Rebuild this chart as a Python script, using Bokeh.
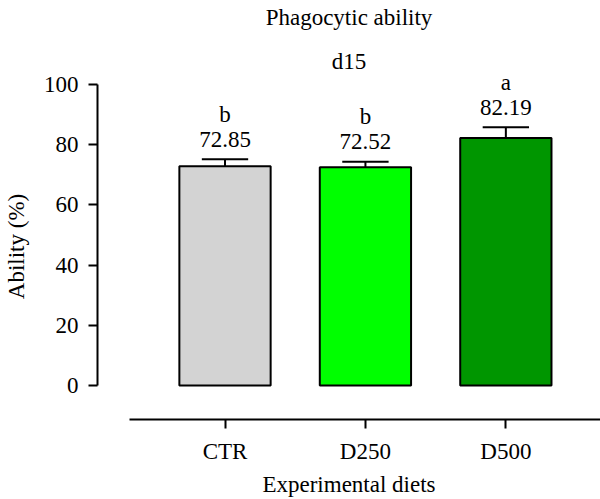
from bokeh.plotting import figure
from bokeh.models import ColumnDataSource, Range1d, FixedTicker, Title, LinearAxis
from bokeh.core.properties import value
from bokeh.embed import file_html
from bokeh.resources import INLINE

# Phagocytic ability at day 15, by experimental diet
categories = ["CTR", "D250", "D500"]
means = [72.85, 72.52, 82.19]
errors = [2.3, 1.8, 3.6]
letters = ["b", "b", "a"]
bar_colors = ["#d3d3d3", "#00ff00", "#009600"]
y_ticks = [0, 20, 40, 60, 80, 100]

FONT = "Liberation Serif"
FS = "23px"

xs = list(range(len(categories)))
tops = [m + e for m, e in zip(means, errors)]
src = ColumnDataSource(dict(
    x=xs, mean=means, top=tops, letter=letters, color=bar_colors,
    label=[f"{m:.2f}" for m in means],
    cap_l=[x - 0.165 for x in xs], cap_r=[x + 0.165 for x in xs],
))

p = figure(width=600, height=499, output_backend="svg", toolbar_location=None,
           x_range=Range1d(-0.908, 2.674), y_range=Range1d(-11.3, 103.65),
           min_border_left=95, min_border_right=0, min_border_top=73,
           min_border_bottom=80, x_axis_location=None, y_axis_location=None)
p.outline_line_color = None
p.grid.visible = False
p.background_fill_color = "white"
p.border_fill_color = "white"

# bars with upward error bars
p.vbar(x="x", top="mean", bottom=0, width=0.65, source=src,
       fill_color="color", line_color="black", line_width=2)
p.segment(x0="x", y0="mean", x1="x", y1="top", source=src,
          line_color="black", line_width=2)
p.segment(x0="cap_l", y0="top", x1="cap_r", y1="top", source=src,
          line_color="black", line_width=2)

# mean values and significance letters above each bar
p.text(x="x", y="top", text="label", source=src, y_offset=-20,
       text_align="center", text_baseline="middle",
       text_font=value(FONT), text_font_size=FS, text_color="black")
p.text(x="x", y="top", text="letter", source=src, y_offset=-45,
       text_align="center", text_baseline="middle",
       text_font=value(FONT), text_font_size=FS, text_color="black")

yax = LinearAxis(ticker=FixedTicker(ticks=y_ticks), bounds=(0, 100),
                 axis_label="Ability (%)")
xax = LinearAxis(ticker=FixedTicker(ticks=xs), bounds=(-0.68, 2.674),
                 axis_label="Experimental diets",
                 major_label_overrides={i: c for i, c in enumerate(categories)})
for ax in (yax, xax):
    ax.axis_line_width = 2
    ax.major_tick_line_width = 2
    ax.major_tick_in = 0
    ax.major_tick_out = 9
    ax.minor_tick_line_color = None
    ax.major_label_text_font = FONT
    ax.major_label_text_font_size = FS
    ax.axis_label_text_font = FONT
    ax.axis_label_text_font_size = FS
    ax.axis_label_text_font_style = "normal"
    ax.major_label_text_color = "black"
    ax.axis_label_text_color = "black"
yax.major_label_standoff = 10
yax.axis_label_standoff = 12
xax.major_label_standoff = 10
xax.axis_label_standoff = 5
p.add_layout(yax, "left")
p.add_layout(xax, "below")

# two-line heading
p.add_layout(Title(text="Phagocytic ability\nd15", align="center", offset=16,
                   text_font=FONT, text_font_size=FS, text_color="black",
                   text_font_style="normal", text_align="center",
                   text_line_height=1.76, standoff=0), "above")

open("out.html", "w").write(file_html(p, INLINE))
